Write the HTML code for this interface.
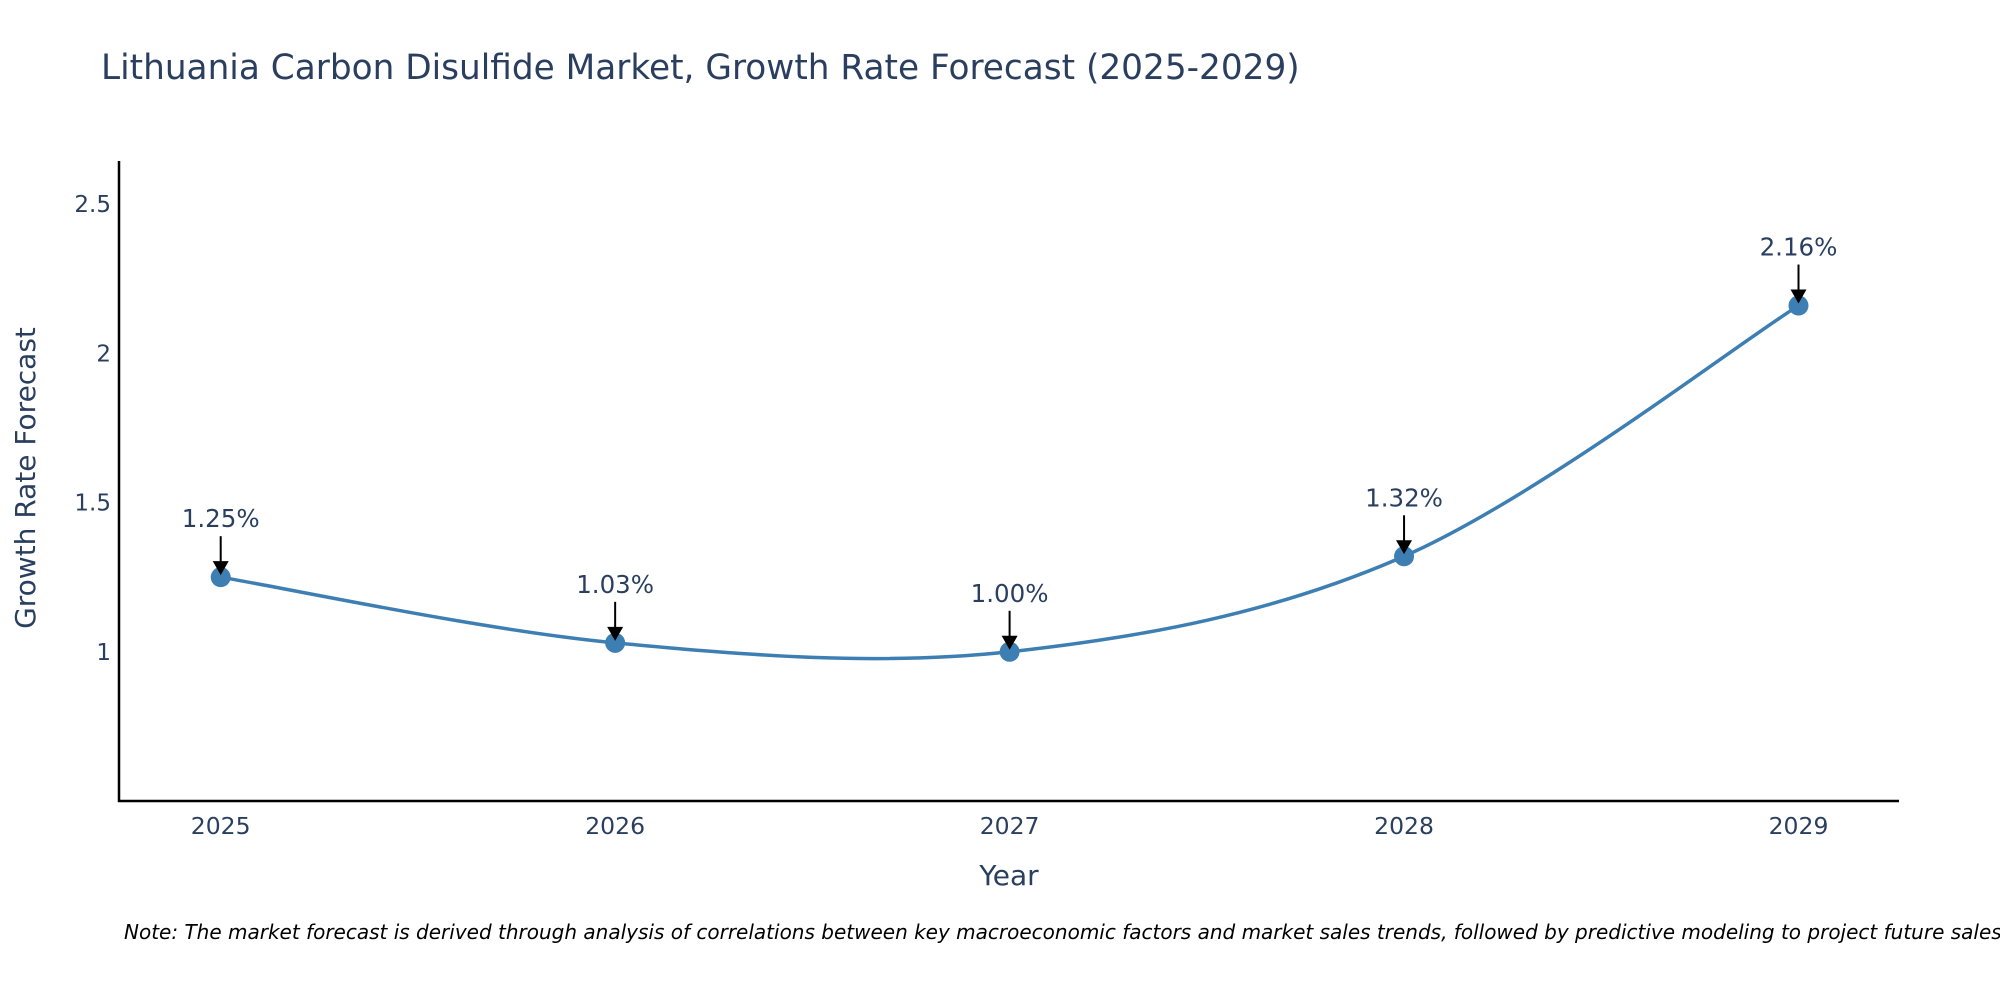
<!DOCTYPE html>
<html><head><meta charset="utf-8"><style>
html,body{margin:0;padding:0;background:#fff;}
svg{display:block;font-family:"DejaVu Sans","Liberation Sans",sans-serif;}
</style></head><body>
<svg id="chart" width="2000" height="1000" viewBox="0 0 2000 1000" xmlns="http://www.w3.org/2000/svg">
<text x="101" y="79" font-size="34.3" fill="#2a3f5f">Lithuania Carbon Disulfide Market, Growth Rate Forecast (2025-2029)</text>
<line x1="119" y1="161" x2="119" y2="802" stroke="#000" stroke-width="2.5"/>
<line x1="118" y1="801" x2="1899" y2="801" stroke="#000" stroke-width="2.5"/>
<text transform="translate(35,478) rotate(-90)" text-anchor="middle" font-size="28" fill="#2a3f5f">Growth Rate Forecast</text>
<text x="1009" y="885" text-anchor="middle" font-size="28" fill="#2a3f5f">Year</text>
<text x="124" y="939" font-size="20" font-style="italic" fill="#000">Note: The market forecast is derived through analysis of correlations between key macroeconomic factors and market sales trends, followed by predictive modeling to project future sales.</text>
<g id="plot"></g>
</svg>
<script>
const years = [2025, 2026, 2027, 2028, 2029];
const rates = [1.25, 1.03, 1.00, 1.32, 2.16];
const labels = ["1.25%", "1.03%", "1.00%", "1.32%", "2.16%"];
const yTicks = [1, 1.5, 2, 2.5];

const NS = "http://www.w3.org/2000/svg";
const x = v => 220.7 + (v - 2025) * (1798.5 - 220.7) / 4;
const y = v => 651.8 - (v - 1) * 298.5;
const g = document.getElementById('plot');
function mk(tag, attrs, parent){const e=document.createElementNS(NS,tag);for(const k in attrs)e.setAttribute(k,attrs[k]);(parent||g).appendChild(e);return e;}

yTicks.forEach(t=>{
  const e=mk('text',{x:111,y:y(t)+8,'text-anchor':'end','font-size':23,fill:'#2a3f5f'});
  
  
  e.textContent=String(t);
});
years.forEach(yr=>{
  const e=mk('text',{x:x(yr),y:834,'text-anchor':'middle','font-size':23.5,fill:'#2a3f5f'});
  
  
  e.textContent=String(yr);
});

const pts = years.map((yr,i)=>[x(yr), y(rates[i])]);
let d = `M${pts[0][0]},${pts[0][1]}`;
const tens = 0.5;
for(let i=0;i<pts.length-1;i++){
  const p0=pts[i-1]||pts[i], p1=pts[i], p2=pts[i+1], p3=pts[i+2]||pts[i+1];
  const c1=[p1[0]+(p2[0]-p0[0])*tens/3, p1[1]+(p2[1]-p0[1])*tens/3];
  const c2=[p2[0]-(p3[0]-p1[0])*tens/3, p2[1]-(p3[1]-p1[1])*tens/3];
  d+=` C${c1[0]},${c1[1]} ${c2[0]},${c2[1]} ${p2[0]},${p2[1]}`;
}
const line=mk('path',{d:d,fill:'none',stroke:'#3d7fb3','stroke-width':3.5});



pts.forEach((p,i)=>{
  const c=mk('circle',{cx:p[0],cy:p[1],r:10,fill:'#3d7fb3'});
  
  
  const a=mk('line',{x1:p[0],y1:p[1]-41,x2:p[0],y2:p[1]-14,stroke:'#000','stroke-width':2});
  
  
  const h=mk('path',{d:`M${p[0]-8},${p[1]-16} L${p[0]+8},${p[1]-16} L${p[0]},${p[1]-2} Z`,fill:'#000'});
  
  
  const t=mk('text',{x:p[0],y:p[1]-50,'text-anchor':'middle','font-size':24.5,fill:'#2a3f5f'});
  
  
  t.textContent=labels[i];
});
</script>
</body></html>
